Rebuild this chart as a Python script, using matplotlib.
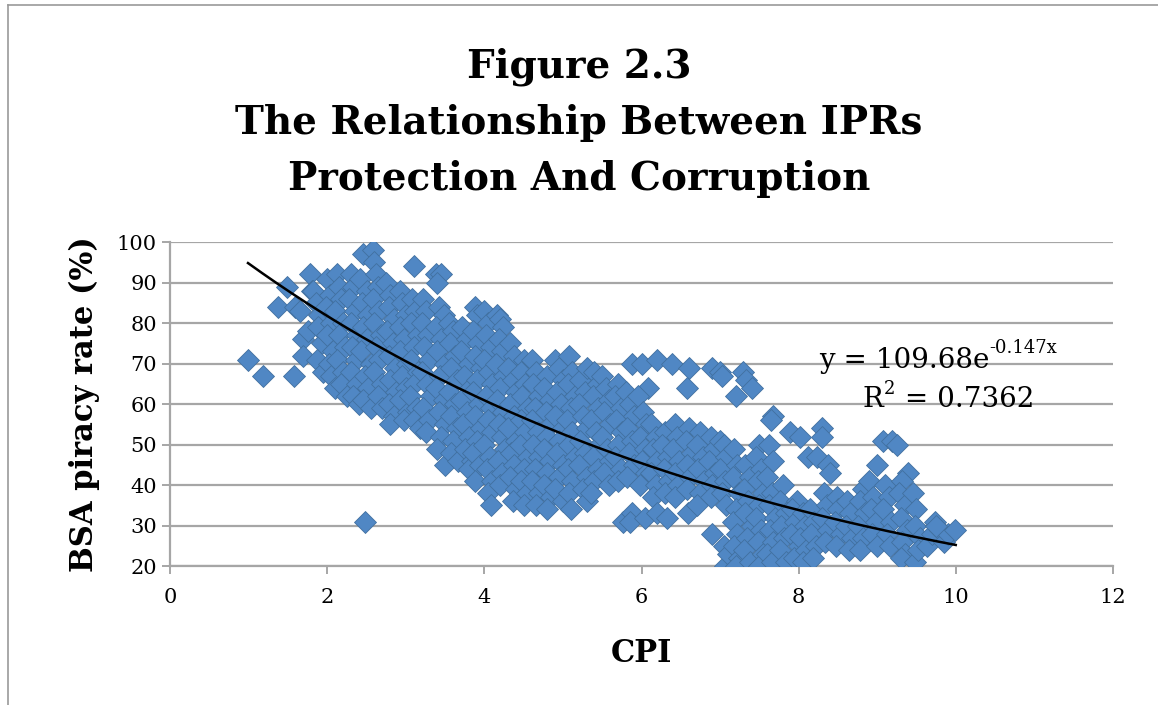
import matplotlib.pyplot as plt
import numpy as np
from matplotlib.lines import Line2D

# (CPI, BSA piracy rate) pairs, grouped by region
left_pts = [(0.99, 71), (1.18, 67), (1.57, 67), (1.37, 84), (1.49, 89), (1.59, 84),
            (1.65, 83), (1.69, 76), (1.69, 72), (1.78, 92), (1.8, 88), (1.75, 78),
            (2.48, 31)]

west_pts = [
    (1.82, 88), (1.85, 85), (1.9, 82), (1.88, 79), (1.93, 75), (1.87, 71), (1.95, 68),
    (2.0, 91), (2.03, 87), (1.98, 84), (2.05, 80), (2.0, 77), (2.07, 73), (2.02, 70), (2.05, 67), (2.1, 64),
    (2.12, 92), (2.15, 89), (2.18, 86), (2.1, 83), (2.2, 80), (2.15, 77), (2.22, 74), (2.12, 71), (2.2, 68),
    (2.17, 65), (2.25, 62),
    (2.3, 92), (2.33, 89), (2.28, 86), (2.35, 83), (2.3, 80), (2.38, 77), (2.32, 74), (2.36, 71), (2.3, 68),
    (2.38, 65), (2.33, 62), (2.4, 60),
    (2.45, 97), (2.42, 91), (2.5, 88), (2.44, 85), (2.52, 82), (2.46, 79), (2.5, 76), (2.43, 73), (2.55, 70),
    (2.48, 67), (2.52, 64), (2.45, 61), (2.55, 59),
    (2.58, 98), (2.6, 95), (2.62, 92), (2.65, 89), (2.58, 86), (2.66, 83), (2.6, 80), (2.68, 77), (2.62, 74),
    (2.66, 71), (2.6, 68), (2.7, 65), (2.64, 62), (2.7, 59),
    (2.75, 90), (2.8, 87), (2.78, 84), (2.85, 81), (2.76, 78), (2.83, 75), (2.78, 72), (2.86, 69), (2.8, 66),
    (2.88, 63), (2.78, 60), (2.85, 57), (2.8, 55),
    (2.92, 88), (2.95, 85), (3.0, 82), (2.92, 79), (2.98, 76), (2.93, 73), (3.02, 70), (2.95, 67), (3.0, 64),
    (2.93, 61), (3.03, 58), (2.97, 56),
    (3.1, 94), (3.08, 86), (3.12, 83), (3.06, 80), (3.15, 77), (3.1, 74), (3.07, 71), (3.15, 68), (3.1, 65),
    (3.05, 62), (3.14, 59), (3.1, 56), (3.18, 54),
    (3.22, 86), (3.25, 83), (3.2, 80), (3.28, 77), (3.23, 74), (3.3, 71), (3.2, 68), (3.27, 65), (3.32, 62),
    (3.22, 59), (3.3, 56), (3.26, 53),
    (3.38, 92), (3.45, 92), (3.4, 90), (3.42, 84), (3.48, 82), (3.38, 79), (3.45, 76), (3.4, 73), (3.5, 70),
    (3.43, 67), (3.38, 64), (3.48, 61), (3.42, 58), (3.5, 55), (3.45, 52), (3.4, 49), (3.5, 45),
]

centre_pts = [
    (3.55, 80), (3.6, 78), (3.56, 75), (3.63, 72), (3.58, 69), (3.65, 66), (3.55, 63), (3.62, 60), (3.58, 57),
    (3.65, 54), (3.6, 51), (3.57, 48), (3.66, 46),
    (3.72, 79), (3.78, 76), (3.7, 73), (3.8, 70), (3.74, 67), (3.82, 64), (3.7, 61), (3.78, 58), (3.73, 55),
    (3.8, 52), (3.75, 49), (3.84, 46), (3.8, 44),
    (3.88, 84), (3.9, 82), (3.86, 78), (3.92, 75), (3.88, 72), (3.95, 69), (3.9, 66), (3.85, 63), (3.93, 60),
    (3.88, 57), (3.96, 54), (3.9, 51), (3.86, 48), (3.94, 45), (3.88, 41),
    (4.0, 83), (4.05, 80), (4.02, 77), (4.08, 74), (4.0, 71), (4.06, 68), (4.1, 65), (4.02, 62), (4.08, 59),
    (4.04, 56), (4.1, 53), (4.0, 50), (4.07, 47), (4.03, 44), (4.1, 41), (4.05, 38), (4.08, 35),
    (4.16, 82), (4.2, 81), (4.24, 79), (4.18, 76), (4.22, 73), (4.15, 70), (4.25, 67), (4.2, 64), (4.16, 61),
    (4.24, 58), (4.18, 55), (4.22, 52), (4.26, 49), (4.17, 46), (4.23, 43), (4.2, 40),
    (4.32, 75), (4.38, 72), (4.3, 69), (4.36, 66), (4.4, 63), (4.33, 60), (4.38, 57), (4.3, 54), (4.4, 51),
    (4.34, 48), (4.38, 45), (4.32, 42), (4.4, 39), (4.36, 36),
    (4.5, 71), (4.46, 68), (4.52, 65), (4.48, 62), (4.55, 59), (4.47, 56), (4.52, 53), (4.45, 50), (4.55, 47),
    (4.5, 44), (4.46, 41), (4.54, 38), (4.5, 35),
    (4.6, 71), (4.66, 68), (4.62, 65), (4.7, 62), (4.64, 59), (4.6, 56), (4.68, 53), (4.62, 50), (4.7, 47),
    (4.65, 44), (4.6, 41), (4.7, 38), (4.66, 35),
    (4.8, 67), (4.76, 64), (4.84, 61), (4.78, 58), (4.85, 55), (4.8, 52), (4.76, 49), (4.84, 46), (4.8, 43),
    (4.76, 40), (4.85, 37), (4.8, 34),
    (4.9, 71), (4.95, 69), (5.0, 66), (4.93, 63), (4.98, 60), (4.9, 57), (5.0, 54), (4.95, 51), (4.92, 48),
    (5.0, 45), (4.95, 42), (4.9, 39), (5.0, 36),
    (5.08, 72), (5.12, 68), (5.06, 65), (5.15, 62), (5.1, 59), (5.05, 56), (5.12, 53), (5.08, 50), (5.15, 47),
    (5.06, 44), (5.12, 41), (5.08, 38), (5.1, 34),
    (5.22, 66), (5.28, 63), (5.2, 60), (5.3, 69), (5.25, 57), (5.3, 54), (5.22, 51), (5.28, 48), (5.2, 45),
    (5.3, 42), (5.25, 39), (5.3, 36),
    (5.4, 68), (5.45, 65), (5.38, 62), (5.44, 59), (5.36, 56), (5.42, 53), (5.46, 50), (5.38, 47), (5.45, 44),
    (5.4, 41), (5.36, 38),
    (5.5, 67), (5.55, 64), (5.58, 61), (5.52, 58), (5.6, 55), (5.5, 52), (5.56, 49), (5.6, 46), (5.52, 43),
    (5.58, 40),
    (5.7, 65), (5.66, 62), (5.74, 59), (5.68, 56), (5.75, 53), (5.7, 50), (5.66, 47), (5.74, 44), (5.7, 41),
    (5.76, 31),
]

east_pts = [
    (5.88, 70), (5.8, 63), (5.85, 60), (5.9, 57), (5.82, 54), (5.88, 51), (5.84, 48), (5.9, 45), (5.82, 42),
    (5.88, 33), (5.85, 31),
    (6.0, 70), (6.08, 64), (5.95, 62), (6.02, 58), (6.06, 55), (5.98, 52), (6.04, 49), (6.0, 46), (6.06, 43),
    (5.98, 40), (6.04, 32),
    (6.2, 71), (6.12, 55), (6.18, 52), (6.15, 49), (6.2, 46), (6.12, 43), (6.18, 40), (6.15, 37), (6.2, 33),
    (6.3, 53), (6.26, 50), (6.34, 47), (6.28, 44), (6.35, 41), (6.3, 38), (6.32, 32),
    (6.39, 70), (6.42, 55), (6.45, 52), (6.4, 49), (6.48, 46), (6.43, 43), (6.47, 40), (6.42, 37),
    (6.6, 69), (6.58, 64), (6.6, 54), (6.56, 51), (6.64, 48), (6.58, 45), (6.62, 42), (6.58, 39), (6.59, 33),
    (6.75, 53), (6.7, 50), (6.78, 47), (6.72, 44), (6.8, 41), (6.75, 38), (6.7, 35),
    (6.9, 69), (6.88, 52), (6.92, 49), (6.86, 46), (6.94, 43), (6.9, 40), (6.88, 37), (6.9, 28),
    (7.0, 68), (7.02, 67), (7.0, 51), (7.05, 50), (7.08, 47), (7.0, 44), (7.06, 41), (7.02, 38), (7.08, 35),
    (7.05, 25), (7.06, 20), (7.1, 23),
    (7.2, 62), (7.18, 49), (7.22, 45), (7.16, 42), (7.24, 38), (7.2, 34), (7.16, 31), (7.22, 28), (7.18, 25),
    (7.24, 22), (7.2, 20),
    (7.29, 68), (7.33, 66), (7.4, 64), (7.32, 45), (7.38, 42), (7.3, 39), (7.36, 36), (7.32, 33), (7.4, 30),
    (7.34, 27), (7.3, 24), (7.38, 21),
    (7.5, 50), (7.46, 47), (7.52, 44), (7.48, 41), (7.55, 38), (7.5, 35), (7.46, 32), (7.52, 29), (7.48, 26),
    (7.55, 23), (7.5, 20),
    (7.67, 57), (7.65, 56), (7.62, 50), (7.68, 46), (7.6, 42), (7.66, 38), (7.62, 35), (7.7, 32), (7.64, 29),
    (7.68, 26), (7.6, 23), (7.66, 21),
    (7.8, 40), (7.76, 36), (7.84, 33), (7.78, 30), (7.82, 27), (7.76, 24), (7.84, 21),
    (7.89, 53), (7.98, 36), (7.92, 34), (7.96, 31), (7.9, 28), (8.0, 25), (7.94, 22),
    (8.02, 52), (8.05, 33), (8.08, 30), (8.02, 27), (8.1, 24), (8.06, 21),
    (8.12, 47), (8.23, 47), (8.15, 34), (8.2, 31), (8.16, 28), (8.22, 25), (8.18, 22),
    (8.3, 54), (8.3, 52), (8.37, 45), (8.4, 43), (8.32, 38), (8.36, 35), (8.3, 32), (8.38, 29), (8.34, 26),
    (8.49, 37), (8.5, 34), (8.46, 31), (8.54, 28), (8.48, 25),
    (8.62, 36), (8.66, 33), (8.6, 30), (8.68, 27), (8.64, 24),
    (8.82, 39), (8.78, 36), (8.84, 33), (8.76, 30), (8.82, 27), (8.78, 24),
    (8.9, 41), (9.0, 45), (8.95, 37), (8.92, 34), (8.98, 31), (8.94, 28), (9.0, 25),
    (9.07, 51), (9.19, 51), (9.1, 40), (9.15, 37), (9.08, 34), (9.18, 31), (9.12, 28), (9.16, 25),
    (9.25, 50), (9.39, 43), (9.31, 41), (9.28, 38), (9.36, 35), (9.3, 32), (9.38, 29), (9.32, 26), (9.36, 23),
    (9.3, 22),
    (9.45, 38), (9.5, 34), (9.48, 30), (9.55, 27), (9.48, 21), (9.52, 24),
    (9.64, 25), (9.7, 28), (9.73, 31), (9.8, 29), (9.85, 26), (9.9, 28), (9.99, 29), (9.75, 30),
]

# exponential trend line shown on the chart
fit_a = 109.68
fit_b = -0.147

pts = np.array(left_pts + west_pts + centre_pts + east_pts)
cpi = pts[:, 0]
rate = pts[:, 1]

fig = plt.figure(figsize=(11.58, 7.05), dpi=100)
ax = fig.add_axes([0.147, 0.197, 0.814, 0.4596])

serif = ['DejaVu Serif']
grid_col = '#A6A6A6'

ax.plot(cpi, rate, linestyle='none', marker='D', markersize=11.5,
        color='#5087C4', mec='#41709F', mew=0.6, zorder=3)

xfit = np.linspace(cpi.min(), 10, 200)
ax.plot(xfit, fit_a * np.exp(fit_b * xfit), color='black', lw=1.8, zorder=4)

ax.set_xlim(0, 12)
ax.set_ylim(20, 100)
ax.set_xticks(range(0, 13, 2))
ax.set_yticks(range(20, 101, 10))
ax.yaxis.grid(True, color=grid_col, lw=1.6)
ax.set_axisbelow(True)
for side in ['top', 'right']:
    ax.spines[side].set_visible(False)
for side in ['left', 'bottom']:
    ax.spines[side].set_color(grid_col)
    ax.spines[side].set_linewidth(1.6)
ax.tick_params(axis='both', colors=grid_col, width=1.4, length=6, labelsize=15,
               labelcolor='black')
ax.tick_params(axis='x', pad=10)
for lab in ax.get_xticklabels() + ax.get_yticklabels():
    lab.set_family(serif)

ax.set_xlabel('CPI', fontsize=22, fontweight='bold', family=serif, labelpad=22)
ax.set_ylabel('BSA piracy rate (%)', fontsize=22, fontweight='bold', family=serif, labelpad=12)

# trend line equation, superscripts drawn as separate small texts
eq = fig.text(0.707, 0.489, 'y = 109.68e', fontsize=20, family=serif, ha='left', va='center')
ax.annotate('-0.147x', xy=(1.0, 0.62), xycoords=eq, fontsize=13, family=serif,
            ha='left', va='bottom')
r2 = fig.text(0.745, 0.433, 'R', fontsize=20, family=serif, ha='left', va='center')
ax.annotate('2', xy=(1.0, 0.55), xycoords=r2, fontsize=13, family=serif,
            ha='left', va='bottom')
ax.annotate(' = 0.7362', xy=(1.0, 0.5), xycoords=r2, xytext=(9, 0),
            textcoords='offset points', fontsize=20, family=serif, ha='left', va='center')

fig.text(0.5, 0.826, 'Figure 2.3\nThe Relationship Between IPRs\nProtection And Corruption',
         fontsize=28, fontweight='bold', family=serif, ha='center', va='center',
         linespacing=1.6)

# chart frame (left and top edges visible)
fig.add_artist(Line2D([0.007, 0.007], [0.0, 0.993], transform=fig.transFigure, color='#999999', lw=1.2))
fig.add_artist(Line2D([0.007, 1.0], [0.993, 0.993], transform=fig.transFigure, color='#999999', lw=1.2))

fig.savefig('out.png', dpi=100)
